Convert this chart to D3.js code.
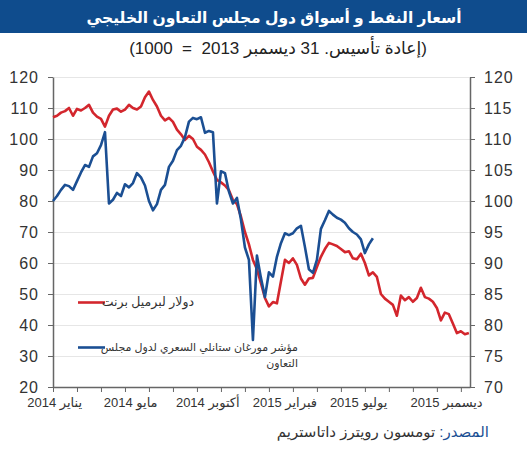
<!DOCTYPE html>
<html>
<head>
<meta charset="utf-8">
<script src="https://cdn.jsdelivr.net/npm/d3@7"></script>
<style>
  body { margin: 0; background: #fff; }
  svg { display: block; font-family: Arial, "Liberation Sans", "DejaVu Sans", sans-serif; }
  .axis path, .axis line { stroke: #666; }
  .axis text { fill: #333; }
  .grid line { stroke: #e6e6e6; }
  .grid path { display: none; }
</style>
</head>
<body>
<svg width="527" height="450"></svg>
<script>
// weekly data, first point 31 Dec 2013
var startDate = new Date(2013, 11, 31);

// Brent, $ per barrel (left axis)
var brent = [107, 107.5, 108.5, 109, 110, 107.5, 109.7, 109.2, 110, 111,
  108.5, 107.2, 106.5, 104, 107.5, 109.5, 109.8, 108.8, 109.5, 111,
  110, 109.5, 110.5, 113.5, 115.3, 112.6, 110.5, 107.5, 106, 106.8,
  105.5, 103, 101.5, 99.7, 101, 100, 97.5, 96.5, 95, 92.5,
  89.5, 86.8, 86, 85, 83.5, 80.3, 79, 75, 70, 66,
  61, 58, 53.5, 48.7, 46, 47.4, 47, 54, 61, 60,
  61.5, 59.4, 55, 53, 55, 55.2, 58.7, 62, 64.5, 66.5,
  66, 65.5, 64.5, 63.5, 63.8, 61.5, 61.2, 63, 60, 56,
  57, 55.5, 50, 48.5, 47.5, 46.5, 43, 49.5, 48, 49,
  47.5, 48.7, 52, 49, 48.5, 47.5, 45.5, 41.5, 44, 43.5,
  40.5, 37.4, 38, 37, 37.4];

// MSCI GCC price index, rebased (right axis)
var gcc = [100, 100.8, 101.8, 102.6, 102.4, 101.8, 103.2, 104.6, 105.8, 105.5,
  107.2, 107.7, 109, 111.1, 99.6, 100.2, 101.3, 100.8, 102.7, 102.2,
  102.9, 104.5, 103.8, 102.5, 100, 98.5, 99.5, 101.8, 102.6, 105.5,
  106.5, 108.2, 108.9, 110.3, 112.8, 113.4, 113.2, 113.5, 111, 111.3,
  111.1, 99.6, 104.8, 104.5, 101.5, 99.6, 100.5, 97, 92.5, 90.5,
  77.6, 91.2, 87.6, 84.5, 88.5, 87.8, 91, 93.2, 94.8, 94.5,
  94.8, 95.6, 96, 92.6, 89, 88.4, 90.5, 95.5, 96.9, 98.4,
  97.8, 97.3, 97, 96.5, 95.6, 95, 94.6, 93.8, 91.6, 93, 94];

var leftTicks = [20, 30, 40, 50, 60, 70, 80, 90, 100, 110, 120];
var rightTicks = [70, 75, 80, 85, 90, 95, 100, 105, 110, 115, 120];
var xLabelDates = ["2014-01-03", "2014-05-16", "2014-09-28", "2015-02-10", "2015-06-19", "2015-11-20"];
var xLabels = ["يناير 2014", "مايو 2014", "أكتوبر 2014", "فبراير 2015", "يوليو 2015", "ديسمبر 2015"];

var svg = d3.select("svg");
var margin = {top: 77, right: 57, bottom: 63, left: 53},
    width = 527 - margin.left - margin.right,
    height = 450 - margin.top - margin.bottom;

var blue = "#1b4f93", red = "#d3262d";

// title bar
svg.append("rect").attr("width", 527).attr("height", 33).attr("fill", "#0f4c8d");
svg.append("text")
    .attr("x", 274).attr("y", 23)
    .attr("text-anchor", "middle")
    .attr("direction", "rtl")
    .attr("fill", "#fff")
    .style("font-size", "15.5px").style("font-weight", "bold")
    .text("أسعار النفط و أسواق دول مجلس التعاون الخليجي");
svg.append("text")
    .attr("x", 278).attr("y", 54)
    .attr("text-anchor", "middle")
    .attr("direction", "rtl")
    .attr("fill", "#222")
    .style("font-size", "17px")
    .style("white-space", "pre")
    .text("(إعادة تأسيس. 31 ديسمبر 2013  =  1000)");

var g = svg.append("g").attr("transform", "translate(" + margin.left + "," + margin.top + ")");

var x = d3.scaleTime()
    .domain([startDate, d3.timeDay.offset(startDate, 730)])
    .range([0, width]);
var yL = d3.scaleLinear().domain([20, 120]).range([height, 0]);
var yR = d3.scaleLinear().domain([70, 120]).range([height, 0]);

var dateOf = function(i) { return d3.timeDay.offset(startDate, 7 * i); };

// grid
g.append("g").attr("class", "grid")
    .call(d3.axisLeft(yL).tickValues(leftTicks.slice(1)).tickSize(-width).tickFormat(""));

// axes
g.append("g").attr("class", "axis")
    .attr("transform", "translate(0," + height + ")")
    .call(d3.axisBottom(x)
      .tickValues(d3.range(18).map(function(i) { return d3.timeDay.offset(startDate, 42 * i); }))
      .tickSize(5).tickSizeOuter(0).tickFormat(""));

g.append("g").attr("class", "axis axis--left")
    .call(d3.axisLeft(yL).tickValues(leftTicks).tickSize(5).tickSizeOuter(0).tickPadding(9))
    .selectAll("text").style("font-size", "16px").style("letter-spacing", "1px");

g.append("g").attr("class", "axis axis--right")
    .attr("transform", "translate(" + width + ",0)")
    .call(d3.axisRight(yR).tickValues(rightTicks).tickSize(5).tickSizeOuter(0).tickPadding(9))
    .selectAll("text").style("font-size", "16px").style("letter-spacing", "1px");

g.selectAll(".axis path").attr("stroke-width", 1.5);

// x labels
g.selectAll(".xlabel")
    .data(xLabelDates)
  .enter().append("text")
    .attr("class", "xlabel")
    .attr("x", function(d) { return x(new Date(d + "T00:00")); })
    .attr("y", height + 20)
    .attr("text-anchor", "middle")
    .attr("direction", "rtl")
    .attr("fill", "#333")
    .style("font-size", "13px")
    .text(function(d, i) { return xLabels[i]; });

// lines
var brentLine = d3.line().x(function(d, i) { return x(dateOf(i)); }).y(function(d) { return yL(d); });
var gccLine = d3.line().x(function(d, i) { return x(dateOf(i)); }).y(function(d) { return yR(d); });

g.append("path").datum(brent)
    .attr("d", brentLine)
    .attr("fill", "none").attr("stroke", red).attr("stroke-width", 2.6)
    .attr("stroke-linejoin", "round");
g.append("path").datum(gcc)
    .attr("d", gccLine)
    .attr("fill", "none").attr("stroke", blue).attr("stroke-width", 2.6)
    .attr("stroke-linejoin", "round");

// legend
var legend = svg.append("g");
legend.append("line").attr("x1", 78).attr("x2", 105).attr("y1", 302.5).attr("y2", 302.5)
    .attr("stroke", red).attr("stroke-width", 2.6);
legend.append("text").attr("x", 194).attr("y", 306)
    .attr("text-anchor", "end").attr("fill", "#333").style("font-size", "12.5px")
    .text("دولار لبرميل برنت");
legend.append("line").attr("x1", 78).attr("x2", 105).attr("y1", 347.5).attr("y2", 347.5)
    .attr("stroke", blue).attr("stroke-width", 2.6);
legend.append("text").attr("x", 298).attr("y", 351)
    .attr("text-anchor", "end").attr("fill", "#333").style("font-size", "11px")
    .text("مؤشر مورغان ستانلي السعري لدول مجلس");
legend.append("text").attr("x", 298).attr("y", 367)
    .attr("text-anchor", "end").attr("fill", "#333").style("font-size", "11px")
    .text("التعاون");

// source
var src = svg.append("text")
    .attr("x", 489).attr("y", 437)
    .attr("text-anchor", "start")
    .attr("direction", "rtl")
    .style("font-size", "15px");
src.append("tspan").attr("fill", blue).text("المصدر:");
src.append("tspan").attr("fill", "#333").text(" تومسون رويترز داتاستريم");
</script>
</body>
</html>
